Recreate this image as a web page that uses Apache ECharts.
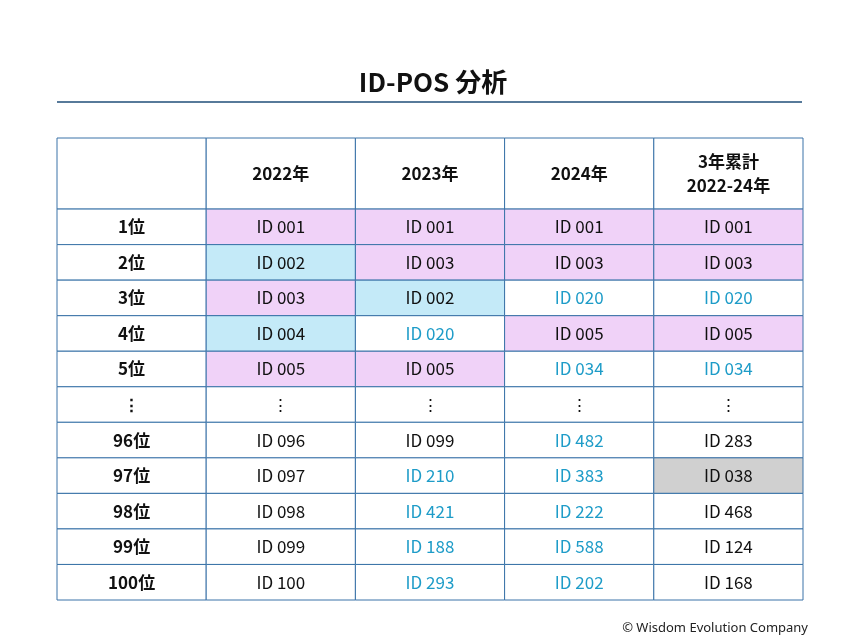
<!DOCTYPE html>
<html><head><meta charset="utf-8">
<script src="https://cdn.jsdelivr.net/npm/echarts@6/dist/echarts.min.js"></script>
<style>html,body{margin:0;background:#fff}#main{width:866px;height:640px}</style>
</head><body><div id="main"></div>
<script>
var headers = ['', '2022年', '2023年', '2024年', '3年累計\n2022-24年'];
var ranks = ['1位', '2位', '3位', '4位', '5位', '⋮', '96位', '97位', '98位', '99位', '100位'];
var ids2022 = ['ID 001', 'ID 002', 'ID 003', 'ID 004', 'ID 005', '⋮', 'ID 096', 'ID 097', 'ID 098', 'ID 099', 'ID 100'];
var ids2023 = ['ID 001', 'ID 003', 'ID 002', 'ID 020', 'ID 005', '⋮', 'ID 099', 'ID 210', 'ID 421', 'ID 188', 'ID 293'];
var ids2024 = ['ID 001', 'ID 003', 'ID 020', 'ID 005', 'ID 034', '⋮', 'ID 482', 'ID 383', 'ID 222', 'ID 588', 'ID 202'];
var idsTotal = ['ID 001', 'ID 003', 'ID 020', 'ID 005', 'ID 034', '⋮', 'ID 283', 'ID 038', 'ID 468', 'ID 124', 'ID 168'];
// 背景: p=ピンク b=水色 g=グレー
var fill2022 = ['p', 'b', 'p', 'b', 'p', '', '', '', '', '', ''];
var fill2023 = ['p', 'p', 'b', '', 'p', '', '', '', '', '', ''];
var fill2024 = ['p', 'p', '', 'p', '', '', '', '', '', '', ''];
var fillTotal = ['p', 'p', '', 'p', '', '', '', 'g', '', '', ''];
// 文字色: c=シアン
var ink2022 = ['', '', '', '', '', '', '', '', '', '', ''];
var ink2023 = ['', '', '', 'c', '', '', '', 'c', 'c', 'c', 'c'];
var ink2024 = ['', '', 'c', '', 'c', '', 'c', 'c', 'c', 'c', 'c'];
var inkTotal = ['', '', 'c', '', 'c', '', '', '', '', '', ''];

var fills = {p: '#f0d2f8', b: '#c4eaf8', g: '#d0d0d0', '': '#ffffff'};
var inks = {c: '#1e9cc8', '': '#111111'};

var cells = [];
headers.forEach(function (h, c) { cells.push([c, 0, 2, h, '#ffffff', '#111111']); });
var cols = [[ranks, null, null], [ids2022, fill2022, ink2022], [ids2023, fill2023, ink2023],
            [ids2024, fill2024, ink2024], [idsTotal, fillTotal, inkTotal]];
cols.forEach(function (col, c) {
    col[0].forEach(function (t, r) {
        cells.push([c, r + 2, r + 3, t, col[1] ? fills[col[1][r]] : '#ffffff', col[2] ? inks[col[2][r]] : '#111111']);
    });
});

var chart = echarts.init(document.getElementById('main'));
chart.setOption({
    animation: false,
    title: {
        text: 'ID-POS 分析', left: 'center', top: 64,
        textStyle: {fontSize: 26, fontWeight: 'bold', color: '#111', fontFamily: 'Noto Sans CJK JP'}
    },
    graphic: [
        {type: 'line', shape: {x1: 57, y1: 102, x2: 802, y2: 102}, style: {stroke: '#1f4e79', lineWidth: 1.5}},
        {type: 'text', right: 58, top: 622, style: {text: '© Wisdom Evolution Company', fontSize: 13, fill: '#222', fontFamily: 'Noto Sans'}}
    ],
    grid: {left: 57, right: 63, top: 138, bottom: 40},
    xAxis: {type: 'value', min: 0, max: 5, show: false},
    yAxis: {type: 'value', min: 0, max: 13, inverse: true, show: false},
    series: [{
        type: 'custom',
        data: cells,
        renderItem: function (params, api) {
            var p0 = api.coord([api.value(0), api.value(1)]);
            var p1 = api.coord([api.value(0) + 1, api.value(2)]);
            var d = cells[params.dataIndex];
            return {
                type: 'group',
                children: [
                    {type: 'rect', shape: {x: p0[0], y: p0[1], width: p1[0] - p0[0], height: p1[1] - p0[1]},
                     style: {fill: d[4], stroke: '#3a73a8', lineWidth: 1}},
                    {type: 'text', x: (p0[0] + p1[0]) / 2, y: (p0[1] + p1[1]) / 2,
                     style: {text: d[3], fill: d[5], fontSize: 17, lineHeight: 24, align: 'center', verticalAlign: 'middle',
                             fontWeight: d[1] < 2 || d[0] === 0 ? 'bold' : 'normal', fontFamily: 'Noto Sans CJK JP'}}
                ]
            };
        }
    }]
});
</script></body></html>
